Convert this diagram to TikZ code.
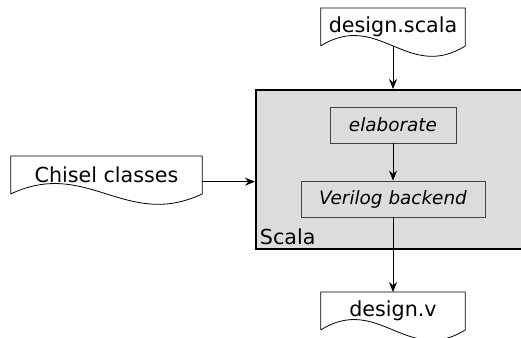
\documentclass[tikz,border=0pt]{standalone}
\usepackage{fontspec}
\setmainfont{DejaVu Sans}
\usetikzlibrary{arrows.meta}
\definecolor{boxgray}{RGB}{220,221,219}
\tikzset{
    arr/.style={-{Stealth[length=7.5pt,width=6pt,inset=2.5pt]},semithick},
    stage/.style={draw=black!75,fill=boxgray,semithick,minimum height=27,
        font=\fontsize{13.8}{16}\selectfont\itshape},
    doc/.style={minimum height=28,font=\fontsize{15.5}{18}\selectfont}
}
\begin{document}
\begin{tikzpicture}[x=0.75pt,y=-0.75pt]
    \clip (0,0) rectangle (521,338);
% scala box
    \node[draw,fill=boxgray,line width=1.4pt,minimum width=330*0.75,
        minimum height=159*0.75,anchor=north west] (scala) at (255,89) {};
    \node[anchor=south west,inner sep=3.5pt,font=\fontsize{15.5}{18}\selectfont]
        (lbl) at (scala.south west) {Scala};
    \node[stage,minimum width=126*0.75] (elab) at (393,125) {elaborate};
    \node[stage,minimum width=184*0.75] (verilog) at (393,199) {Verilog backend};
% files
    \node[doc,minimum width=144*0.75] (dscala) at (393,27) {design.scala};
    \node[doc,minimum width=191*0.75] (chisel) at (106.5,175) {Chisel classes};
    \node[doc,minimum width=144*0.75] (dv) at (393,311) {design.v};
    \foreach \n/\w in {dscala/144,chisel/191,dv/144}{
        \draw[semithick] (\n.south west) -- (\n.north west) -- (\n.north east)
            -- (\n.south east)
            .. controls ([xshift=-0.3*\w pt,yshift=-27pt]\n.south east)
            and ([xshift=0.3*\w pt,yshift=27pt]\n.south west) .. (\n.south west);
    }
% arrows
    \draw[arr] (dscala.south) -- (dscala.south |- scala.north);
    \draw[arr] ([yshift=-5pt]chisel.east) -- ([yshift=-5pt]chisel.east -| scala.west);
    \draw[arr] (elab) -- (verilog);
    \draw[arr] (verilog) -- (dv.north);
\end{tikzpicture}
\end{document}
